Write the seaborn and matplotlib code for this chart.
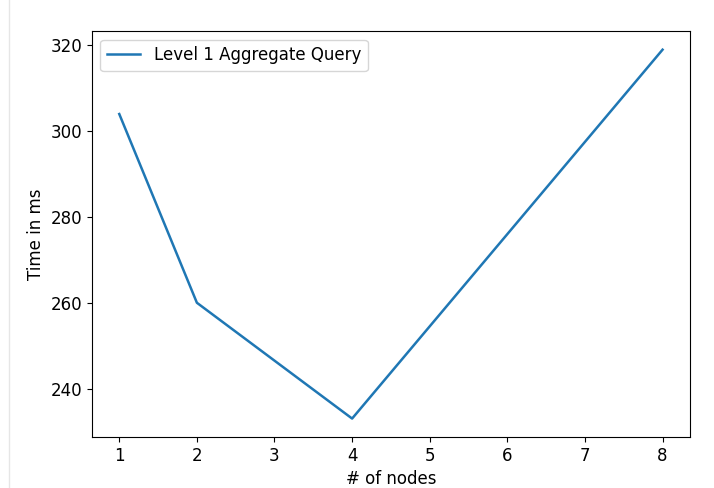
import numpy as np
import pandas as pd
import matplotlib
matplotlib.use("Agg")
import matplotlib.pyplot as plt
import seaborn as sns
from matplotlib.lines import Line2D

nodes = [1, 2, 4, 8]
times = [304, 260, 233, 319]
series_label = "Level 1 Aggregate Query"

df = pd.DataFrame({"nodes": nodes, "time": times})

plt.rcParams["font.size"] = 12

fig = plt.figure(figsize=(7.14, 4.88), dpi=100)
ax = fig.add_axes([0.129, 0.1045, 0.837, 0.8315])

sns.lineplot(data=df, x="nodes", y="time", ax=ax, label=series_label,
             color="#1f77b4", linewidth=1.8)

ax.set_xlabel("# of nodes")
ax.set_ylabel("Time in ms")
ax.set_xticks(range(1, 9))
ax.legend(loc="upper left")

# faint page edge seen in the screenshot
fig.add_artist(Line2D([8.5 / 714, 8.5 / 714], [0, 1], color="#e6e6e6", linewidth=1))

fig.savefig("out.png", dpi=100)
